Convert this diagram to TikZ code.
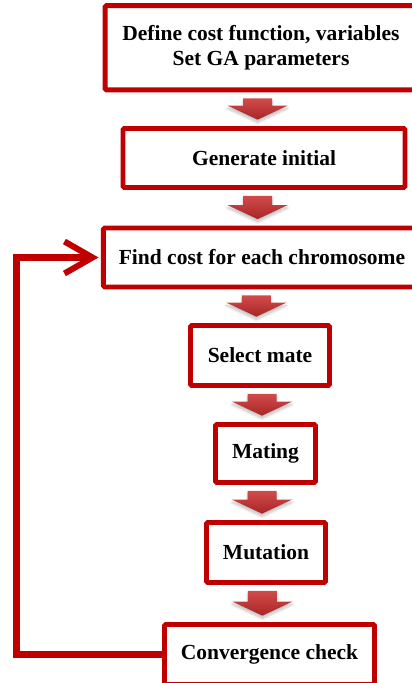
\documentclass[tikz,border=0pt]{standalone}
\usepackage{fontspec}
\setmainfont{Liberation Serif}
\usepackage{tikz}
\usetikzlibrary{arrows.meta, calc, shadows.blur}
\definecolor{boxred}{HTML}{C00000}
\definecolor{arrowlight}{HTML}{D24B4B}
\definecolor{arrowdark}{HTML}{A82626}

\tikzset{
  gabox/.style={draw=boxred, line width=3.5pt, rounded corners=1pt, fill=white,
    align=center, font=\bfseries\fontsize{15.3}{17.2}\selectfont},
  blockarrow/.style={top color=arrowlight, bottom color=arrowdark,
    blur shadow={shadow xshift=0pt, shadow yshift=-2pt, shadow opacity=25, shadow blur steps=6}},
  loopline/.style={draw=boxred, line width=4.3pt}
}

\begin{document}
\begin{tikzpicture}
\useasboundingbox (0,0) rectangle (10.3,17.075);

% GA steps
\node[gabox, minimum width=7.79cm, minimum height=2.11cm] (define) at (6.525,15.881)
  {Define cost function, variables\\Set GA parameters};
\node[gabox, minimum width=7.05cm, minimum height=1.475cm] (init) at (6.6,13.125) {Generate initial};
\node[gabox, minimum width=7.93cm, minimum height=1.475cm] (cost) at (6.55,10.6375) {Find cost for each chromosome};
\node[gabox, minimum width=3.475cm, minimum height=1.5cm] (select) at (6.5,8.1875) {Select mate};
\node[gabox, minimum width=2.5cm, minimum height=1.45cm] (mating) at (6.6375,5.7375) {Mating};
\node[gabox, minimum width=2.975cm, minimum height=1.5cm] (mutation) at (6.65,3.2625) {Mutation};
\node[gabox, minimum width=5.25cm, minimum height=1.5cm] (check) at (6.7375,0.7125) {Convergence check};

% block arrows between the steps
\foreach \a/\b/\ax in {define/init/6.44, init/cost/6.44, cost/select/6.41,
                       select/mating/6.55, mating/mutation/6.55, mutation/check/6.56} {
  \coordinate (ax) at (\ax,0);
  \coordinate (t) at ($(ax |- \a.south)+(0,-0.15)$);
  \coordinate (h) at ($(ax |- \b.north)+(0,0.16)$);
  \shade[blockarrow] ($(t)+(-0.3625,0)$) -- ($(t)+(0.3625,0)$) -- ($(h)+(0.3625,0.35)$)
    -- ($(h)+(0.75,0.35)$) -- (h) -- ($(h)+(-0.75,0.35)$) -- ($(h)+(-0.3625,0.35)$) -- cycle;
}

% back to the cost step
\coordinate (back) at (0.4125,5);
\draw[loopline, -{Straight Barb[length=0.7cm, width=0.8cm]}, shorten >=0.06cm]
  (check.west) -| (back) |- (cost.west);
\end{tikzpicture}
\end{document}
